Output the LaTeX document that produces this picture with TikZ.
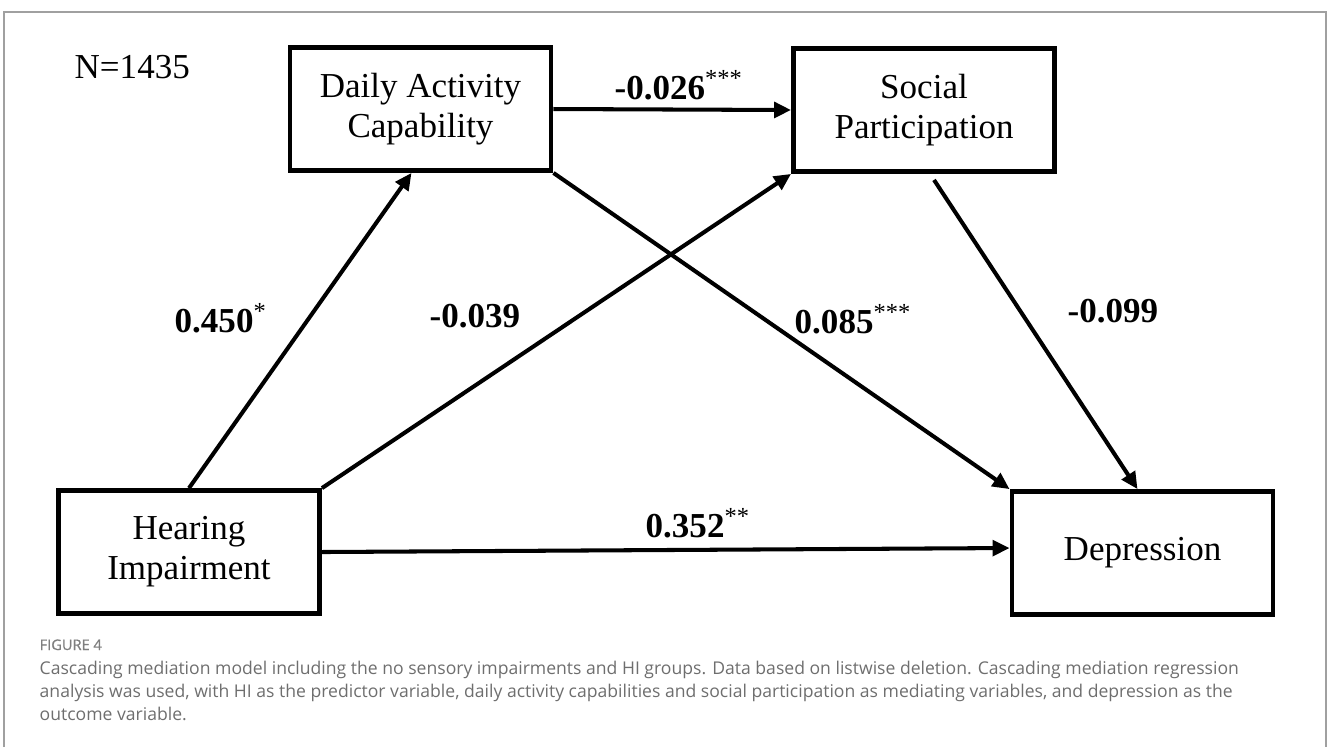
\documentclass[tikz,border=0pt]{standalone}
\usepackage{fontspec}
\setmainfont{Liberation Serif}
\newfontfamily\capfont{Open Sans}
\newfontfamily\capheadfont[FakeBold=0.8]{Open Sans}
\usetikzlibrary{arrows.meta,calc}
\definecolor{framegray}{HTML}{A0A0A0}
\definecolor{captext}{HTML}{6E6E6E}
\definecolor{caphead}{HTML}{7E7E7E}
\newcommand\boxfont{\fontsize{9.96}{11.4}\selectfont}
\begin{document}
\begin{tikzpicture}[x=0.01cm,y=-0.01cm,
  varbox/.style={draw,line width=1.35pt,rectangle,align=center,inner sep=0pt,
    minimum width=2.61cm,minimum height=1.23cm,font=\boxfont},
  path/.style={line width=1.15pt,-{Triangle[length=4.8pt,width=4.4pt]}},
  coef/.style={anchor=base west,inner sep=0pt,font=\boxfont\bfseries},
  captext/.style={anchor=base west,inner sep=0pt,text=captext,font=\capfont\fontsize{5.0}{6}\selectfont}]
\useasboundingbox (0,0) rectangle (1328,747);
% outer frame of the figure panel
\draw[framegray,line width=0.45pt] (4,747) -- (4,12) -- (1326,12) -- (1326,747);

% variables
\node[varbox] (dac) at (420.5,109) {Daily Activity\\Capability};
\node[varbox] (sp)  at (924,110)   {Social\\Participation};
\node[varbox] (hi)  at (189,552)   {Hearing\\Impairment};
\node[varbox] (dep) at (1142.5,553) {Depression};

% sample size
\node[anchor=base west,inner sep=0pt,font=\boxfont] (n) at (74,78) {N=1435};

% paths
\draw[path] (dac.east) -- (sp.west);
\draw[path] (hi.north) -- ($(dac.south)+(-9,0)$);
\draw[path] (hi.north east) -- (sp.south west);
\draw[path] (dac.south east) -- (dep.north west);
\draw[path] ($(sp.south)+(10,6)$) -- ($(dep.north)+(-5,0)$);
\draw[path] (hi.east) -- ($(dep.west)+(0,-5)$);

% path coefficients
\node[coef] (c1) at (614,99)  {-0.026\textsuperscript{\mdseries ***}};
\node[coef] (c2) at (174,332) {0.450\textsuperscript{\mdseries *}};
\node[coef] (c3) at (429,327) {-0.039};
\node[coef] (c4) at (794,333) {0.085\textsuperscript{\mdseries ***}};
\node[coef] (c5) at (1067,322) {-0.099};
\node[coef] (c6) at (645,537) {0.352\textsuperscript{\mdseries **}};

% caption
\node[captext,text=caphead,font=\capheadfont\fontsize{4.15}{5}\selectfont] (fig) at (39,650) {FIGURE 4};
\node[captext] (l1) at (39,674) {Cascading mediation model including the no sensory impairments and HI groups. Data based on listwise deletion. Cascading mediation regression};
\node[captext] (l2) at (39,697) {analysis was used, with HI as the predictor variable, daily activity capabilities and social participation as mediating variables, and depression as the};
\node[captext] (l3) at (39,720) {outcome variable.};
\end{tikzpicture}
\end{document}
